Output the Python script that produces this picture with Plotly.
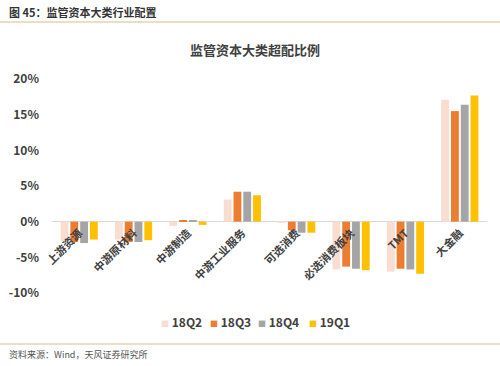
import plotly.graph_objects as go

categories = ["上游资源", "中游原材料", "中游制造", "中游工业服务", "可选消费", "必选消费板块", "TMT", "大金融"]
s_18Q2 = [-2.7, -2.5, -0.6, 3.1, -0.2, -6.7, -7.0, 17.1]
s_18Q3 = [-2.85, -2.85, 0.1, 4.2, -1.2, -6.3, -6.6, 15.5]
s_18Q4 = [-3.0, -2.85, 0.2, 4.2, -1.55, -6.6, -6.7, 16.4]
s_19Q1 = [-2.5, -2.6, -0.45, 3.7, -1.55, -6.8, -7.3, 17.7]
series_names = ["18Q2", "18Q3", "18Q4", "19Q1"]
colors = ["#F9DDD0", "#ED7D31", "#A5A5A5", "#FFC000"]
y_ticks = [-10, -5, 0, 5, 10, 15, 20]
y_tick_labels = ["-10%", "-5%", "0%", "5%", "10%", "15%", "20%"]
Y_MIN, Y_MAX = -10, 20

FONT = "Noto Sans CJK SC"
fig = go.Figure()
for name, vals, c in zip(series_names, [s_18Q2, s_18Q3, s_18Q4, s_19Q1], colors):
    fig.add_trace(go.Bar(x=categories, y=vals, name=name, marker=dict(color=c, line=dict(width=0))))

T, B, L, R = 79, 293, 52, 487
H = B - T
W = R - L
def py(p):
    return (B - p) / H
def px(p):
    return (p - L) / W

fig.update_layout(
    width=500, height=366,
    margin=dict(l=L, r=500 - R, t=T, b=366 - B, autoexpand=False),
    paper_bgcolor="white", plot_bgcolor="white",
    font=dict(family=FONT, color="#404040"),
    bargap=0.28, bargroupgap=0.2,
    showlegend=False,
    xaxis=dict(showgrid=False, showline=False, ticks="", tickangle=-45, automargin=False,
               anchor="free", position=(0 - Y_MIN) / (Y_MAX - Y_MIN), layer="above traces",
               tickfont=dict(size=11, family=FONT, color="#404040", weight="bold"),
               ticklabelstandoff=2, zeroline=False),
    yaxis=dict(range=[Y_MIN, Y_MAX], tickvals=y_ticks, ticktext=y_tick_labels, automargin=False,
               showgrid=False, zeroline=True, zerolinecolor="#D9D9D9", zerolinewidth=1,
               tickfont=dict(size=12, family=FONT, color="#404040", weight="bold"),
               ticklabelstandoff=12),
    title=dict(text="监管资本大类超配比例", x=0.51, xanchor="center", y=1 - 50 / 366, yanchor="middle",
               font=dict(size=13, family=FONT, color="#404040", weight="bold")),
)

# legend drawn as text entries
legend_x = [159, 208, 256, 307]
for name, c, lx in zip(series_names, colors, legend_x):
    fig.add_annotation(text=f'<span style="color:{c};font-size:8px">■</span> {name}',
                       xref="paper", yref="paper", x=px(lx), y=py(321),
                       xanchor="left", yanchor="middle", showarrow=False,
                       font=dict(size=12, family=FONT, color="#404040", weight="bold"))

fig.add_annotation(text="图 45：监管资本大类行业配置", xref="paper", yref="paper",
                   x=px(7), y=py(12), xanchor="left", yanchor="middle", showarrow=False,
                   font=dict(size=11, family=FONT, color="#333333", weight="bold"))
fig.add_annotation(text="资料来源：Wind，天风证券研究所", xref="paper", yref="paper",
                   x=px(7), y=py(354), xanchor="left", yanchor="middle", showarrow=False,
                   font=dict(size=9, family=FONT, color="#555555"))
fig.add_shape(type="line", xref="paper", yref="paper", x0=px(0), x1=px(500), y0=py(22), y1=py(22),
              line=dict(color="#E3D3B5", width=1.5))
fig.add_shape(type="line", xref="paper", yref="paper", x0=px(0), x1=px(500), y0=py(344), y1=py(344),
              line=dict(color="#E3D3B5", width=1.5))

fig.write_html("out.html", post_script="document.body.style.margin='0';",
               config={"displayModeBar": False})
